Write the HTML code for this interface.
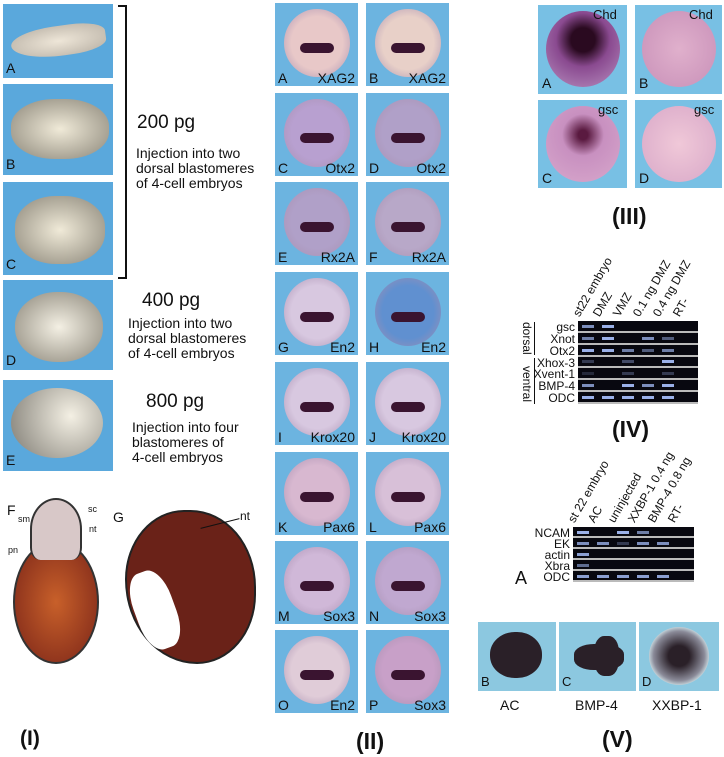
<!DOCTYPE html>
<html><head><meta charset="utf-8"><style>
body{margin:0;width:724px;height:757px;background:#fff;position:relative;overflow:hidden;font-family:"Liberation Sans",sans-serif;color:#111}
.a{position:absolute}
.bl{position:absolute;background:#5aa8dc}
.lb{position:absolute;font-size:13px;color:#111}
.t{position:absolute;font-size:14px;line-height:15px}
.h{position:absolute;font-size:19px}
.r{position:absolute;font-weight:bold;font-size:23px}
.g{position:absolute;background:#080810}
.row{position:absolute;left:0;right:0;height:10px;border-bottom:2px solid #bbb}
.band{position:absolute;height:3px;background:#9ab0e8;top:4px;width:12px}
.gl{position:absolute;font-size:12px;text-align:right;width:60px}
.ch{position:absolute;font-size:12px;transform:rotate(-60deg);transform-origin:0 100%;white-space:nowrap}
</style></head><body>

<!-- Panel I embryos -->
<div class="bl" style="left:3px;top:4px;width:110px;height:74px"><div class="a" style="left:8px;top:22px;width:95px;height:30px;border-radius:50% 40% 40% 60%;background:radial-gradient(#eee6d8,#b8b0a4);transform:rotate(-8deg)"></div><span class="lb" style="left:3px;top:56px;font-size:14px">A</span></div>
<div class="bl" style="left:3px;top:84px;width:110px;height:91px"><div class="a" style="left:8px;top:15px;width:98px;height:60px;border-radius:45%;background:radial-gradient(#f0ead8,#8a8578)"></div><span class="lb" style="left:3px;top:72px;font-size:14px">B</span></div>
<div class="bl" style="left:3px;top:182px;width:110px;height:93px"><div class="a" style="left:12px;top:14px;width:90px;height:68px;border-radius:45%;background:radial-gradient(#f0ead8,#8a8578)"></div><span class="lb" style="left:3px;top:74px;font-size:14px">C</span></div>
<div class="bl" style="left:3px;top:280px;width:110px;height:90px"><div class="a" style="left:12px;top:12px;width:88px;height:70px;border-radius:48%;background:radial-gradient(#f4f0e4,#8a8578)"></div><span class="lb" style="left:3px;top:72px;font-size:14px">D</span></div>
<div class="bl" style="left:3px;top:380px;width:110px;height:91px"><div class="a" style="left:8px;top:8px;width:92px;height:70px;border-radius:50%;background:radial-gradient(circle at 65% 40%,#f4f0e4,#7d7a72)"></div><span class="lb" style="left:3px;top:72px;font-size:14px">E</span></div>

<div class="a" style="left:118px;top:5px;width:7px;height:270px;border:2px solid #111;border-left:none"></div>
<div class="h" style="left:137px;top:112px">200 pg</div>
<div class="t" style="left:136px;top:146px">Injection into two<br>dorsal blastomeres<br>of 4-cell embryos</div>
<div class="h" style="left:142px;top:290px">400 pg</div>
<div class="t" style="left:128px;top:316px">Injection into two<br>dorsal blastomeres<br>of 4-cell embryos</div>
<div class="h" style="left:146px;top:391px">800 pg</div>
<div class="t" style="left:132px;top:420px">Injection into four<br>blastomeres of<br>4-cell embryos</div>

<!-- sections -->
<div class="a" style="left:13px;top:540px;width:82px;height:120px;border-radius:50%;background:radial-gradient(#c8602a,#7a2418);border:2px solid #333"></div>
<div class="a" style="left:30px;top:498px;width:48px;height:60px;border-radius:50% 50% 20% 20%;background:#d8c8c8;border:2px solid #333;border-bottom:none"></div>
<div class="a" style="left:125px;top:510px;width:127px;height:150px;border-radius:45% 50% 45% 55%;background:#6a2218;border:2px solid #222"></div>
<div class="a" style="left:135px;top:570px;width:40px;height:80px;border-radius:40%;background:#fff;transform:rotate(-20deg)"></div>
<span class="lb" style="left:7px;top:502px;font-size:14px">F</span>
<span class="lb" style="left:18px;top:514px;font-size:9px">sm</span>
<span class="lb" style="left:88px;top:504px;font-size:9px">sc</span>
<span class="lb" style="left:89px;top:524px;font-size:9px">nt</span>
<span class="lb" style="left:8px;top:545px;font-size:9px">pn</span>
<span class="lb" style="left:113px;top:509px;font-size:14px">G</span>
<span class="lb" style="left:240px;top:509px;font-size:12px">nt</span>
<div class="a" style="left:200px;top:523px;width:40px;height:1px;background:#111;transform:rotate(-14deg)"></div>
<div class="r" style="left:20px;top:727px;font-size:21px">(I)</div>

<!-- Panel II -->
<div id="p2"></div>
<div class="r" style="left:356px;top:728px">(II)</div>

<!-- Panel III -->
<div class="bl" style="left:538px;top:5px;width:89px;height:89px;background:#78c0e4"><div class="a" style="left:8px;top:6px;width:74px;height:76px;border-radius:50%;background:radial-gradient(circle at 50% 38%,#2a0a20 20%,#8a4a90 45%,#b890c0)"></div><span class="lb" style="left:4px;top:70px;font-size:14px">A</span><span class="lb" style="left:55px;top:2px;font-size:13px">Chd</span></div>
<div class="bl" style="left:635px;top:5px;width:87px;height:89px;background:#78c0e4"><div class="a" style="left:7px;top:6px;width:74px;height:76px;border-radius:50%;background:radial-gradient(#e0b0cc,#c890b8)"></div><span class="lb" style="left:4px;top:70px;font-size:14px">B</span><span class="lb" style="left:54px;top:2px;font-size:13px">Chd</span></div>
<div class="bl" style="left:538px;top:100px;width:89px;height:88px;background:#78c0e4"><div class="a" style="left:8px;top:6px;width:74px;height:76px;border-radius:50%;background:radial-gradient(circle at 50% 38%,#5a1a40 8%,#c890c0 35%,#d8a8cc)"></div><span class="lb" style="left:4px;top:70px;font-size:14px">C</span><span class="lb" style="left:60px;top:2px;font-size:13px">gsc</span></div>
<div class="bl" style="left:635px;top:100px;width:87px;height:88px;background:#78c0e4"><div class="a" style="left:7px;top:6px;width:74px;height:76px;border-radius:50%;background:radial-gradient(#f0c8d8,#d8a8c8)"></div><span class="lb" style="left:4px;top:70px;font-size:14px">D</span><span class="lb" style="left:59px;top:2px;font-size:13px">gsc</span></div>
<div class="r" style="left:612px;top:203px">(III)</div>

<!-- Panel IV -->
<div class="g" style="left:578px;top:321px;width:120px;height:83px" id="g4"></div>
<div class="a" style="left:522px;top:322px;font-size:12px;transform:rotate(90deg);transform-origin:0 0;left:534px">dorsal</div>
<div class="a" style="left:534px;top:366px;font-size:12px;transform:rotate(90deg);transform-origin:0 0">ventral</div>
<div class="a" style="left:534px;top:322px;width:1px;height:33px;background:#111"></div>
<div class="a" style="left:534px;top:358px;width:1px;height:46px;background:#111"></div>
<div class="r" style="left:612px;top:416px">(IV)</div>

<!-- Panel V -->
<div class="g" style="left:573px;top:527px;width:121px;height:55px" id="g5"></div>
<div class="a" style="left:515px;top:568px;font-size:18px">A</div>
<div class="bl" style="left:478px;top:622px;width:78px;height:69px;background:#8cc8e0"><div class="a" style="left:12px;top:10px;width:52px;height:46px;border-radius:48%;background:#2a2028"></div><span class="lb" style="left:3px;top:52px;font-size:13px">B</span></div>
<div class="bl" style="left:559px;top:622px;width:77px;height:69px;background:#8cc8e0"><div class="a" style="left:15px;top:22px;width:50px;height:26px;border-radius:40%;background:#2a2028"></div><div class="a" style="left:35px;top:14px;width:25px;height:40px;border-radius:40%;background:#2a2028"></div><span class="lb" style="left:3px;top:52px;font-size:13px">C</span></div>
<div class="bl" style="left:639px;top:622px;width:80px;height:69px;background:#8cc8e0"><div class="a" style="left:10px;top:5px;width:60px;height:58px;border-radius:50%;background:radial-gradient(#2a2028 25%,#8a8a98 60%,#d8ecf0 75%,transparent 80%)"></div><span class="lb" style="left:3px;top:52px;font-size:13px">D</span></div>
<div class="a" style="left:500px;top:697px;font-size:14px">AC</div>
<div class="a" style="left:575px;top:697px;font-size:14px">BMP-4</div>
<div class="a" style="left:652px;top:697px;font-size:14px">XXBP-1</div>
<div class="r" style="left:602px;top:726px">(V)</div>

<script>
var p=document.getElementById('p2'),h='';
var tops=[3,93,182,272,362,452,541,630];
var L=[['A','XAG2','B','XAG2'],['C','Otx2','D','Otx2'],['E','Rx2A','F','Rx2A'],['G','En2','H','En2'],['I','Krox20','J','Krox20'],['K','Pax6','L','Pax6'],['M','Sox3','N','Sox3'],['O','En2','P','Sox3']];
var C1=['#e8c8c8','#b8a0d0','#b0a0c8','#d8c8e0','#d8c8e0','#d8b8d0','#d0b8d8','#e0ccd8'];
var C2=['#e8d0c8','#b0a0c8','#b8a8c8','#6090d0','#d8c8e0','#d8c0d8','#c0a8d0','#c8a0c8'];
for(var i=0;i<8;i++){
 [[275,C1[i],L[i][0],L[i][1]],[366,C2[i],L[i][2],L[i][3]]].forEach(function(c){
  h+='<div class="bl" style="left:'+c[0]+'px;top:'+tops[i]+'px;width:83px;height:83px;background:#6cb4e0"><div class="a" style="left:9px;top:6px;width:66px;height:68px;border-radius:50%;background:radial-gradient('+c[1]+' 55%,#a890b0)"></div><div class="a" style="left:25px;top:40px;width:34px;height:10px;border-radius:6px;background:#3a1430"></div><span class="lb" style="left:3px;top:67px;font-size:14px">'+c[2]+'</span><span class="lb" style="right:3px;top:67px;font-size:14px">'+c[3]+'</span></div>';
 });}
p.innerHTML=h;
function gel(id,x,y,w,names,heads,bands){
 var g=document.getElementById(id),s='',rh=(id=='g4'?83:55)/names.length;
 names.forEach(function(n,r){
  s+='<div class="row" style="top:'+(r*rh)+'px;height:'+(rh-2)+'px">';
  bands[r].forEach(function(b,k){if(b)s+='<div class="band" style="left:'+(4+k*20)+'px;top:'+(rh/2-2)+'px;opacity:'+b+'"></div>';});
  s+='</div>';
  var d=document.createElement('div');d.className='gl';d.style.left=(x-63)+'px';d.style.top=(y+r*rh-1)+'px';d.textContent=n;document.body.appendChild(d);
 });
 g.innerHTML=s;
 heads.forEach(function(t,k){var d=document.createElement('div');d.className='ch';d.style.left=(x+4+k*20)+'px';d.style.top=(y-16)+'px';d.textContent=t;document.body.appendChild(d);});
}
gel('g4',578,321,120,['gsc','Xnot','Otx2','Xhox-3','Xvent-1','BMP-4','ODC'],['st22 embryo','DMZ','VMZ','0.1 ng DMZ','0.4 ng DMZ','RT-'],
 [[.8,1,0,0,0,0],[.7,1,0,.8,.5,0],[1,1,.7,.5,.7,0],[.3,0,.4,0,1,0],[.2,0,.3,0,.3,0],[.8,0,1,.8,1,0],[1,1,1,1,1,0]]);
gel('g5',573,527,121,['NCAM','EK','actin','Xbra','ODC'],['st 22 embryo','AC','uninjected','XXBP-1 0.4 ng','BMP-4 0.8 ng','RT-'],
 [[1,0,1,.7,0,0],[.8,.8,.3,.8,.8,0],[.9,0,0,0,0,0],[.6,0,0,0,0,0],[.9,.9,.9,.9,.9,0]]);
</script>
</body></html>
